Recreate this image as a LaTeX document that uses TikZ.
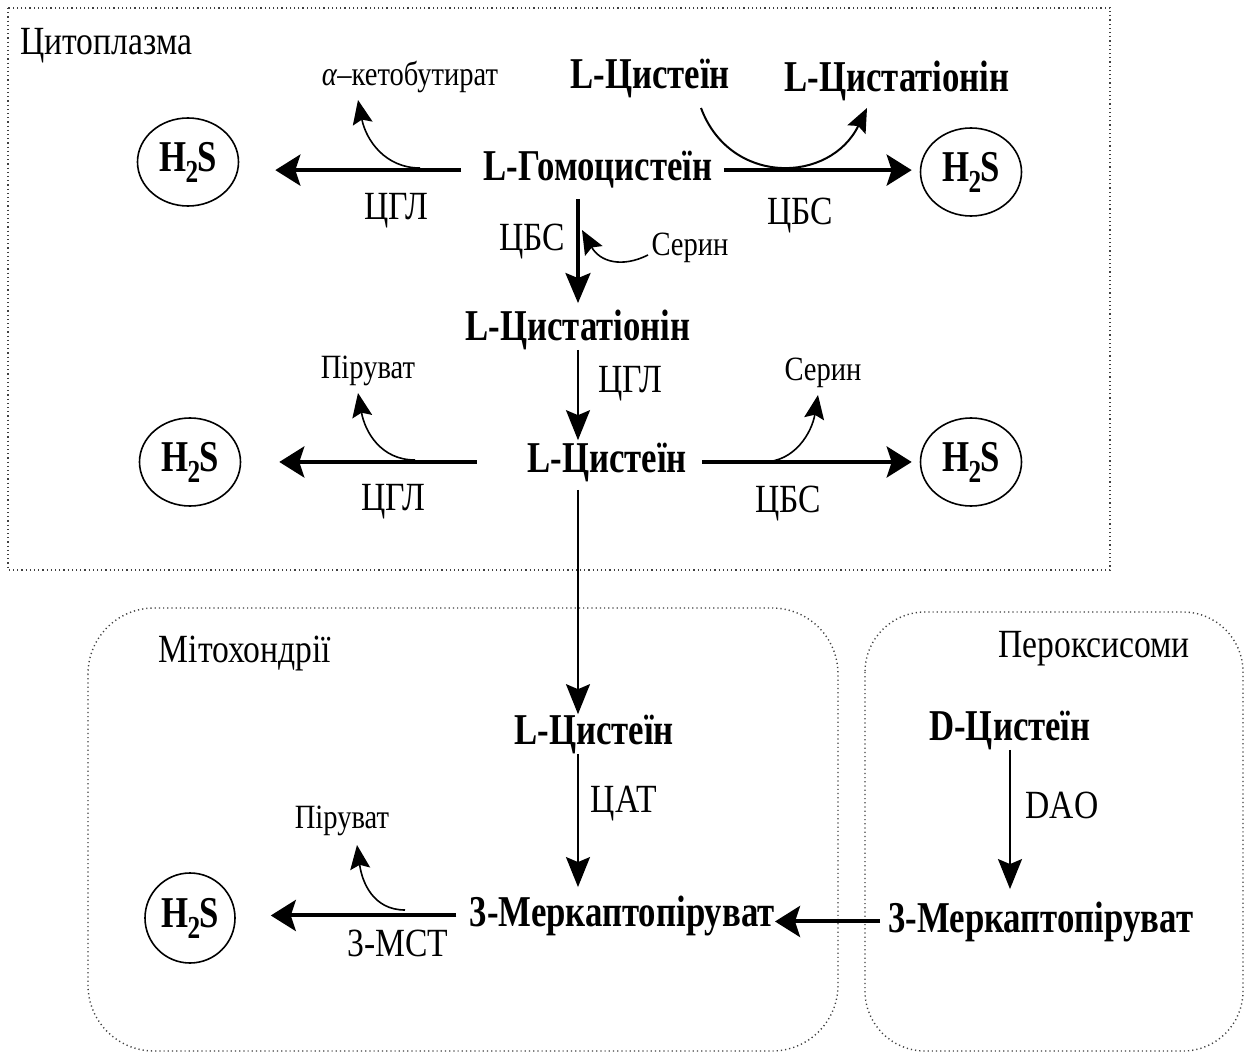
\documentclass[tikz,border=0pt]{standalone}
\usepackage{fontspec}
\setmainfont{Liberation Serif}[FakeStretch=0.84]
\newfontfamily\boldfam{Liberation Serif}[FakeStretch=0.79]
\usetikzlibrary{arrows.meta,shapes.geometric}
\begin{document}
\begin{tikzpicture}[x=0.5pt,y=-0.5pt,
  mainlbl/.style={font=\boldfam\fontsize{22}{25}\selectfont\bfseries, inner sep=0pt, anchor=base},
  enzlbl/.style={font=\fontsize{20}{23}\selectfont, inner sep=0pt, anchor=base},
  smalllbl/.style={font=\fontsize{17}{20}\selectfont, inner sep=0pt, anchor=base},
  complbl/.style={font=\fontsize{20}{23}\selectfont, inner sep=0pt, anchor=base},
  hsnode/.style={draw, ellipse, line width=0.8pt, inner sep=0pt, minimum width=50.5pt, minimum height=44pt, font=\boldfam\fontsize{22}{25}\selectfont\bfseries},
  dotbox/.style={draw=black!75, line width=0.7pt, dash pattern=on 0.6pt off 1.5pt},
  bigarr/.style={line width=2pt, -{Stealth[length=12.5pt,width=15.5pt,inset=2.5pt]}},
  midarr/.style={line width=1.7pt, -{Stealth[length=15pt,width=12.5pt,inset=2.5pt]}},
  thinarr/.style={line width=1pt, -{Stealth[length=15pt,width=12pt,inset=2.5pt]}},
  brarr/.style={line width=0.8pt, -{Stealth[length=12pt,width=10pt,inset=2pt]}}
]
\useasboundingbox (0,0) rectangle (1254,1054);
\fill[white] (0,0) rectangle (1254,1054);

% compartments
\draw[dotbox] (8,8) rectangle (1110,570);
\draw[dotbox, rounded corners=33pt] (88,608) rectangle (838,1051);
\draw[dotbox, rounded corners=30pt] (865,612) rectangle (1243,1051);

\newcommand{\hts}{H\kern-0.5pt\raisebox{-0.55ex}{\fontsize{16}{16}\selectfont 2}\kern-0.5ptS}

% labels of compartments
\node[complbl, anchor=base west] (cyto) at (20,55) {Цитоплазма};
\node[complbl] (mitol) at (245,662) {Мітохондрії};
\node[complbl] (peroxl) at (1094,657) {Пероксисоми};

% cytoplasm
\node[smalllbl] (akb) at (410,86) {\textit{α}–кетобутират};
\node[mainlbl] (lcys1) at (650,89) {L-Цистеїн};
\node[mainlbl] (lcth1) at (897,92) {L-Цистатіонін};
\node[mainlbl] (hcy) at (598,181) {L-Гомоцистеїн};
\node[hsnode] (h1) at (188,162) {\hts};
\node[hsnode] (h2) at (971,172) {\hts};
\node[enzlbl] (cgl1) at (396,220) {ЦГЛ};
\node[enzlbl] (cbs1) at (800,225) {ЦБС};
\node[enzlbl] (cbs2) at (532,250) {ЦБС};
\node[smalllbl] (ser1) at (690,256) {Серин};
\node[mainlbl] (lcth2) at (578,340) {L-Цистатіонін};
\node[enzlbl] (cgl2) at (630,392) {ЦГЛ};
\node[smalllbl] (pir1) at (368,378) {Піруват};
\node[smalllbl] (ser2) at (823,380) {Серин};
\node[mainlbl] (lcys2) at (607,472) {L-Цистеїн};
\node[hsnode] (h3) at (190,462) {\hts};
\node[hsnode] (h4) at (971,462) {\hts};
\node[enzlbl] (cgl3) at (393,510) {ЦГЛ};
\node[enzlbl] (cbs3) at (788,512) {ЦБС};

% mitochondria
\node[mainlbl] (lcys3) at (594,744) {L-Цистеїн};
\node[enzlbl] (cat) at (624,812) {ЦАТ};
\node[smalllbl] (pir2) at (342,828) {Піруват};
\node[mainlbl, anchor=base east] (mp1) at (775,926) {3-Меркаптопіруват};
\node[hsnode, minimum width=45pt, minimum height=45pt] (h5) at (190,918) {\hts};
\node[enzlbl] (mst) at (398,956) {3-МСТ};

% peroxisomes
\node[mainlbl] (dcys) at (1010,740) {D-Цистеїн};
\node[enzlbl] (dao) at (1062,818) {DAO};
\node[mainlbl, anchor=base west] (mp2) at (888,932) {3-Меркаптопіруват};

% branch points
\coordinate (b1s) at (420,168); \coordinate (b1e) at (358,100);
\coordinate (b2s) at (415,460); \coordinate (b2e) at (358,393);
\coordinate (b3s) at (763,462); \coordinate (b3e) at (818,395);
\coordinate (b4s) at (405,910); \coordinate (b4e) at (357,845);
\coordinate (b5s) at (648,255); \coordinate (b5e) at (582,230);
\coordinate (b6s) at (701,108); \coordinate (b6e) at (867,108);

% main arrows
\draw[bigarr, shorten <=11pt, shorten >=18pt] (hcy.west) -- (hcy.west -| h1.east);
\draw[bigarr, shorten <=5.5pt, shorten >=4pt] (hcy.east) -- (hcy.east -| h2.west);
\draw[midarr, shorten <=5pt, shorten >=3pt] (lcth2.north |- hcy.south) -- (lcth2.north);
\draw[thinarr, shorten >=1pt] (lcth2.south) -- (lcth2.south |- lcys2.north);
\draw[bigarr, shorten <=25pt, shorten >=19pt] (lcys2.west) -- (lcys2.west -| h3.east);
\draw[bigarr, shorten <=7.5pt, shorten >=4pt] (lcys2.east) -- (lcys2.east -| h4.west);
\draw[thinarr, shorten <=4pt] (lcth2.south |- lcys2.south) -- (lcth2.south |- lcys3.north);
\draw[thinarr, shorten >=4pt] (lcth2.south |- lcys3.south) -- (lcth2.south |- mp1.north);
\draw[bigarr, shorten <=6.5pt, shorten >=17.5pt] (mp1.west) -- (mp1.west -| h5.east);
\draw[bigarr, shorten <=4pt] (mp2.west) -- (mp2.west -| mp1.east);
\draw[thinarr, shorten >=6pt] (dcys.south) -- (dcys.south |- mp2.north);

% branches
\draw[brarr] (b1s) .. controls (385,168) and (366,140) .. (b1e);
\draw[brarr] (b2s) .. controls (381,460) and (365,432) .. (b2e);
\draw[brarr] (b3s) .. controls (795,462) and (812,432) .. (b3e);
\draw[brarr] (b4s) .. controls (373,910) and (362,882) .. (b4e);
\draw[brarr] (b5s) .. controls (622,268) and (600,262) .. (b5e);
\draw[brarr, line width=1pt] (b6s) .. controls (730,186) and (830,184) .. (b6e);
\end{tikzpicture}
\end{document}
